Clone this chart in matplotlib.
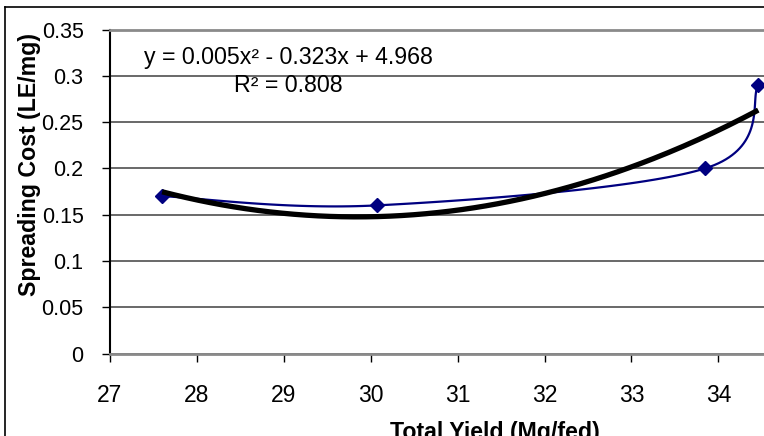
import numpy as np
import matplotlib
matplotlib.use("Agg")
import matplotlib.pyplot as plt
from matplotlib.lines import Line2D

plt.rcParams['font.family'] = ['Liberation Sans', 'DejaVu Sans']

# data
yield_x = [27.6, 30.07, 33.85, 34.46]
cost_y = [0.17, 0.16, 0.20, 0.29]
eq_text = "y = 0.005x² - 0.323x + 4.968"
r2_text = "R² = 0.808"
x_ticks = [27, 28, 29, 30, 31, 32, 33, 34]
y_ticks = [0, 0.05, 0.1, 0.15, 0.2, 0.25, 0.3, 0.35]
y_ticklabels = ["0", "0.05", "0.1", "0.15", "0.2", "0.25", "0.3", "0.35"]


def smooth_line(xs, ys, n=40):
    """Catmull-Rom style bezier smoothing (like Excel's smoothed line)."""
    p = np.column_stack([xs, ys]).astype(float)
    pts = np.vstack([p[0], p, p[-1]])
    out = []
    t = np.linspace(0, 1, n)[:, None]
    for i in range(1, len(pts) - 2):
        p0, p1, p2, p3 = pts[i - 1], pts[i], pts[i + 1], pts[i + 2]
        c1 = p1 + (p2 - p0) / 6
        c2 = p2 - (p3 - p1) / 6
        seg = ((1 - t) ** 3) * p1 + 3 * ((1 - t) ** 2) * t * c1 \
            + 3 * (1 - t) * t ** 2 * c2 + t ** 3 * p2
        out.append(seg)
    out = np.vstack(out)
    return out[:, 0], out[:, 1]


W, H = 764, 436
fig = plt.figure(figsize=(W / 100, H / 100), dpi=100, facecolor="w")

# plot area (extends past the right edge, as in the cropped original)
x0, y_top, y_bot = 110, 29.5, 353.5
px_per_unit = 86.9
ax = fig.add_axes([x0 / W, 1 - y_bot / H,
                   (35 - 27) * px_per_unit / W, (y_bot - y_top) / H])

ax.set_xlim(27, 35)
ax.set_ylim(0, 0.35)
ax.set_xticks(x_ticks)
ax.set_yticks(y_ticks)
ax.set_yticklabels(y_ticklabels)
ax.tick_params(axis='both', direction='out', length=6, width=1, color='black')
ax.tick_params(axis='x', pad=16, labelsize=16.5)
ax.tick_params(axis='y', pad=13, labelsize=15.5)

ax.yaxis.grid(True, color='#404040', linewidth=1.1)
ax.set_axisbelow(True)
for s in ['top', 'bottom']:
    ax.spines[s].set_color('#8a8a8a')
    ax.spines[s].set_linewidth(2)
ax.spines['right'].set_visible(False)
ax.spines['left'].set_color('black')
ax.spines['left'].set_linewidth(1.5)

# smoothed data line
sx, sy = smooth_line(yield_x, cost_y)
ax.plot(sx, sy, color='#000080', linewidth=1.6, zorder=3)
ax.plot(yield_x, cost_y, linestyle='none', marker='D', markersize=7.5,
        color='#000080', zorder=4, clip_on=False)

# polynomial trendline
coef = np.polyfit(yield_x, cost_y, 2)
tx = np.linspace(min(yield_x), max(yield_x), 200)
ax.plot(tx, np.polyval(coef, tx), color='black', linewidth=3.8, zorder=5,
        solid_capstyle='butt')

fig.text(288 / W, 1 - 64 / H, eq_text, ha='center', va='baseline', fontsize=16.7)
fig.text(288 / W, 1 - 92 / H, r2_text, ha='center', va='baseline', fontsize=16.7)

fig.text(36 / W, 1 - 165 / H, "Spreading Cost (LE/mg)", rotation=90,
         rotation_mode='anchor', ha='center', va='baseline',
         fontsize=16.7, fontweight='bold')
fig.text(495 / W, 1 - 439 / H, "Total Yield (Mg/fed)", ha='center',
         va='baseline', fontsize=16.7, fontweight='bold')

# outer chart border (cropped)
fig.add_artist(Line2D([5 / W, 5 / W], [0, 1 - 7 / H], color='black',
                      linewidth=1.2, transform=fig.transFigure))
fig.add_artist(Line2D([5 / W, 1], [1 - 7 / H, 1 - 7 / H], color='black',
                      linewidth=1.2, transform=fig.transFigure))

fig.savefig("out.png", dpi=100)
